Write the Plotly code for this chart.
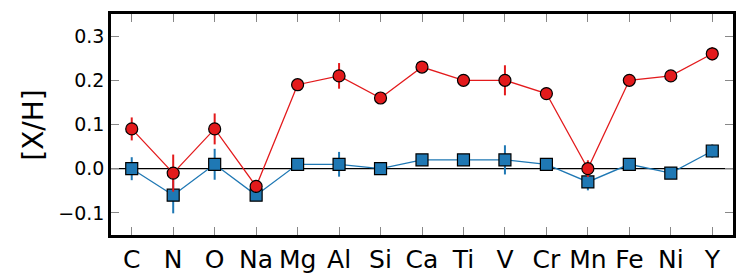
import plotly.graph_objects as go

elements = ["C", "N", "O", "Na", "Mg", "Al", "Si", "Ca", "Ti", "V", "Cr", "Mn", "Fe", "Ni", "Y"]
red_vals = [0.09, -0.01, 0.09, -0.04, 0.19, 0.21, 0.16, 0.23, 0.20, 0.20, 0.17, 0.00, 0.20, 0.21, 0.26]
red_err = [0.026, 0.042, 0.035, 0.008, 0.006, 0.029, 0.006, 0.006, 0.006, 0.034, 0.006, 0.019, 0.006, 0.006, 0.015]
blue_vals = [0.00, -0.06, 0.01, -0.06, 0.01, 0.01, 0.00, 0.02, 0.02, 0.02, 0.01, -0.03, 0.01, -0.01, 0.04]
blue_err = [0.026, 0.041, 0.035, 0.013, 0.006, 0.028, 0.006, 0.006, 0.006, 0.033, 0.006, 0.019, 0.006, 0.006, 0.015]
yticks = [-0.1, 0.0, 0.1, 0.2, 0.3]
ytick_text = ["\u22120.1", "0.0", "0.1", "0.2", "0.3"]

x = list(range(len(elements)))
fig = go.Figure()

fig.add_trace(go.Scatter(
    x=x, y=blue_vals, mode="lines+markers",
    line=dict(color="#1f78b4", width=1.3),
    marker=dict(symbol="square", size=12, color="#1f78b4", line=dict(color="black", width=1.2)),
    error_y=dict(type="data", array=blue_err, color="#1f78b4", thickness=2, width=0),
    showlegend=False,
))
fig.add_trace(go.Scatter(
    x=x, y=red_vals, mode="lines+markers",
    line=dict(color="#e31a1c", width=1.3),
    marker=dict(symbol="circle", size=12, color="#e31a1c", line=dict(color="black", width=1.2)),
    error_y=dict(type="data", array=red_err, color="#e31a1c", thickness=2, width=0),
    showlegend=False,
))

fig.add_shape(type="line", xref="paper", yref="y", x0=0, x1=1, y0=0, y1=0,
              line=dict(color="black", width=1.2), layer="below")

fig.update_layout(
    width=747, height=280,
    margin=dict(l=111, r=14, t=14, b=45),
    paper_bgcolor="white", plot_bgcolor="white",
    font=dict(family="DejaVu Sans", color="black"),
)
fig.update_xaxes(
    range=[-0.5, 14.5], tickmode="array", tickvals=x, ticktext=elements,
    ticks="inside", ticklen=8, tickcolor="#888888", tickwidth=1,
    showline=True, linecolor="black", linewidth=2.5, mirror="allticks",
    showgrid=False, zeroline=False, automargin=False,
    tickfont=dict(size=25, family="DejaVu Sans"),
)
fig.update_yaxes(
    range=[-0.15, 0.35], tickmode="array", tickvals=yticks, ticktext=ytick_text,
    ticks="inside", ticklen=8, tickcolor="#888888", tickwidth=1,
    showline=True, linecolor="black", linewidth=2.5, mirror="allticks",
    showgrid=False, zeroline=False, automargin=False,
    tickfont=dict(size=19, family="DejaVu Sans"),
)
fig.add_annotation(text="[X/H]", xref="paper", yref="paper", x=-0.125, y=0.5,
                   textangle=-90, showarrow=False, xanchor="center", yanchor="middle",
                   font=dict(size=28, family="DejaVu Sans", color="black"))

fig.write_html("out.html", config={"displayModeBar": False},
               post_script="document.body.style.margin='0';")
